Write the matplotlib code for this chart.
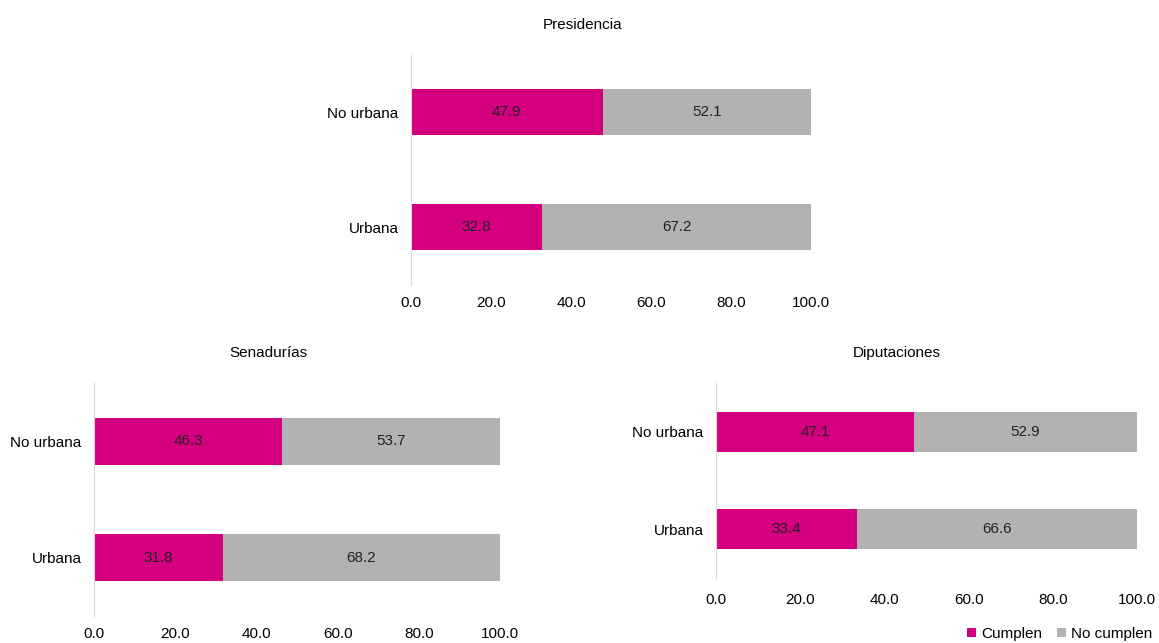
import matplotlib
matplotlib.use("Agg")
import matplotlib.pyplot as plt
import numpy as np

plt.rcParams['font.family'] = ['Liberation Sans', 'DejaVu Sans']

categorias = ["Urbana", "No urbana"]
presidencia_cumplen = [32.8, 47.9]
presidencia_no = [67.2, 52.1]
senadurias_cumplen = [31.8, 46.3]
senadurias_no = [68.2, 53.7]
diputaciones_cumplen = [33.4, 47.1]
diputaciones_no = [66.6, 52.9]
ticks = [0, 20, 40, 60, 80, 100]

MAGENTA = "#D5007F"
GRIS = "#B2B2B2"
FS = 11


def panel(ax, titulo, cumplen, no_cumplen, alto=0.4, xpad=8):
    y = np.arange(len(categorias))
    b1 = ax.barh(y, cumplen, height=alto, color=MAGENTA, label="Cumplen")
    b2 = ax.barh(y, no_cumplen, left=cumplen, height=alto, color=GRIS, label="No cumplen")
    for bars in (b1, b2):
        ax.bar_label(bars, labels=[f"{v:.1f}" for v in bars.datavalues],
                     label_type="center", fontsize=FS, color="#222222")
    ax.set_yticks(y)
    ax.set_yticklabels(categorias, fontsize=FS)
    ax.set_xticks(ticks)
    ax.set_xticklabels([f"{t:.1f}" for t in ticks], fontsize=FS)
    ax.set_xlim(0, 100)
    ax.set_ylim(-0.5, 1.5)
    ax.tick_params(axis="y", length=0, pad=9)
    ax.tick_params(axis="x", length=0, pad=xpad)
    for s in ("top", "right", "bottom"):
        ax.spines[s].set_visible(False)
    ax.spines["left"].set_color("#D9D9D9")
    ax.set_title(titulo, fontsize=FS, pad=19, x=0.43)
    return b1, b2


fig = plt.figure(figsize=(11.59, 6.43), dpi=100)
ax1 = fig.add_axes([0.3546, 0.5568, 0.3451, 0.3577])
ax2 = fig.add_axes([0.0811, 0.0420, 0.3503, 0.3624])
ax3 = fig.add_axes([0.6178, 0.1011, 0.3632, 0.3033])

panel(ax1, "Presidencia", presidencia_cumplen, presidencia_no)
panel(ax2, "Senadurías", senadurias_cumplen, senadurias_no)
b1, b2 = panel(ax3, "Diputaciones", diputaciones_cumplen, diputaciones_no, alto=0.41, xpad=11)

fig.legend(handles=[b1, b2], loc="lower right", bbox_to_anchor=(1.006, -0.018), ncol=2,
           frameon=False, fontsize=FS, handlelength=0.55, handleheight=0.55,
           handletextpad=0.35, columnspacing=1.0)

fig.savefig("out.png", dpi=100)
